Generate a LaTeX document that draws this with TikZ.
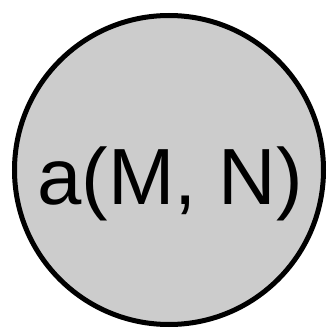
\documentclass[tikz,border=0pt]{standalone}
\usepackage{fontspec}
\setmainfont{Liberation Sans}
\definecolor{circfill}{RGB}{204,204,204}
\begin{document}
\begin{tikzpicture}[x=1bp,y=1bp,
  bubble/.style={circle, draw=black, fill=circfill, line width=5bp, minimum size=309bp, inner sep=0pt},
  lbl/.style={font=\fontsize{80}{80}\selectfont, inner sep=0pt, anchor=base}]
\useasboundingbox (0,0) rectangle (329,328);
\node[bubble] (c) at (169,158) {};
\node[lbl] (t) at (170,124) {a(M, N)};
\end{tikzpicture}
\end{document}
